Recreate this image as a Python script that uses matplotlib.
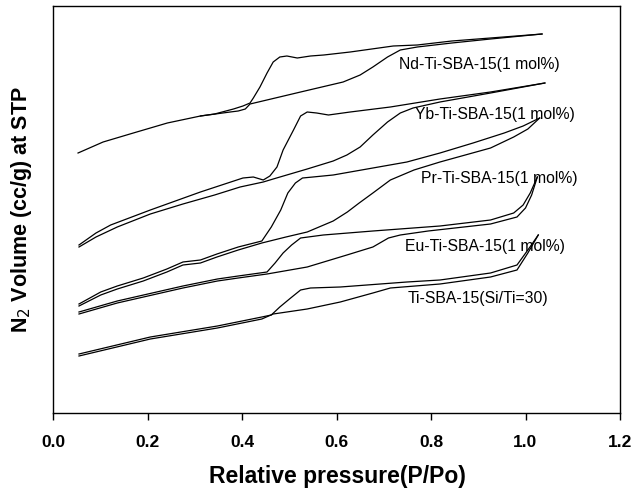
import matplotlib
matplotlib.use("Agg")
import matplotlib.pyplot as plt

plt.rcParams['font.family'] = ['Liberation Sans', 'DejaVu Sans']

# ---- data (relative pressure P/Po, arbitrary stacked volume units) ----
nd_ads_x = [0.053, 0.106, 0.170, 0.242, 0.312, 0.375, 0.392, 0.407, 0.417, 0.524, 0.614, 0.650, 0.677, 0.708, 0.735, 0.771, 0.844, 0.926, 1.035]
nd_ads_y = [260, 271, 280, 290, 297, 301, 302, 304, 309, 321, 331, 338, 346, 356, 363, 366, 370, 374, 379]
nd_des_x = [1.035, 0.926, 0.844, 0.771, 0.720, 0.629, 0.573, 0.545, 0.517, 0.495, 0.480, 0.466, 0.453, 0.438, 0.424, 0.417, 0.402, 0.382, 0.342, 0.312]
nd_des_y = [379, 375, 372, 368, 367, 361, 358, 357, 355, 357, 356, 351, 340, 326, 315, 310, 307, 304, 299, 297]

yb_ads_x = [0.055, 0.091, 0.136, 0.206, 0.275, 0.342, 0.396, 0.445, 0.466, 0.538, 0.593, 0.622, 0.650, 0.677, 0.708, 0.735, 0.762, 0.819, 0.926, 1.041]
yb_ads_y = [166, 176, 186, 199, 209, 218, 226, 231, 234, 244, 252, 258, 266, 278, 291, 300, 305, 311, 320, 330]
yb_des_x = [1.041, 0.926, 0.819, 0.714, 0.629, 0.583, 0.558, 0.538, 0.524, 0.509, 0.487, 0.474, 0.459, 0.445, 0.424, 0.402, 0.312, 0.206, 0.122, 0.091, 0.055]
yb_des_y = [330, 321, 314, 306, 301, 298, 300, 301, 297, 283, 263, 246, 237, 233, 236, 235, 221, 203, 188, 180, 168]

pr_ads_x = [0.055, 0.101, 0.136, 0.191, 0.241, 0.275, 0.312, 0.347, 0.392, 0.442, 0.493, 0.538, 0.593, 0.623, 0.648, 0.677, 0.714, 0.764, 0.819, 0.926, 0.975, 1.005, 1.030]
pr_ads_y = [107, 118, 124, 132, 141, 148, 150, 156, 163, 170, 176, 181, 192, 201, 210, 220, 233, 243, 251, 265, 276, 284, 295]
pr_des_x = [1.030, 0.995, 0.955, 0.889, 0.819, 0.749, 0.677, 0.593, 0.550, 0.528, 0.513, 0.497, 0.482, 0.462, 0.442, 0.392, 0.347, 0.312, 0.275, 0.241, 0.191, 0.136, 0.101, 0.055]
pr_des_y = [295, 287, 280, 270, 260, 251, 245, 238, 236, 235, 230, 220, 203, 186, 172, 166, 159, 153, 151, 144, 135, 127, 121, 109]

eu_ads_x = [0.055, 0.136, 0.275, 0.348, 0.392, 0.453, 0.538, 0.622, 0.677, 0.710, 0.735, 0.794, 0.926, 0.982, 1.000, 1.013, 1.025]
eu_ads_y = [99, 110, 125, 132, 135, 139, 146, 158, 166, 175, 178, 182, 189, 196, 205, 218, 236]
eu_des_x = [1.025, 1.010, 0.995, 0.975, 0.926, 0.819, 0.677, 0.572, 0.524, 0.505, 0.487, 0.470, 0.453, 0.392, 0.348, 0.275, 0.136, 0.055]
eu_des_y = [236, 220, 208, 200, 193, 187, 182, 178, 175, 168, 160, 150, 141, 137, 134, 127, 112, 101]

ti_ads_x = [0.055, 0.206, 0.348, 0.442, 0.466, 0.538, 0.608, 0.677, 0.714, 0.819, 0.926, 0.982, 1.005, 1.027]
ti_ads_y = [57, 74, 85, 94, 99, 104, 111, 120, 125, 129, 136, 143, 160, 178]
ti_des_x = [1.027, 1.005, 0.982, 0.926, 0.819, 0.749, 0.608, 0.545, 0.524, 0.503, 0.480, 0.462, 0.442, 0.348, 0.206, 0.055]
ti_des_y = [178, 163, 148, 140, 133, 131, 126, 125, 123, 115, 106, 98, 96, 87, 76, 59]

labels = ['Nd-Ti-SBA-15(1 mol%)', 'Yb-Ti-SBA-15(1 mol%)', 'Pr-Ti-SBA-15(1 mol%)',
          'Eu-Ti-SBA-15(1 mol%)', 'Ti-SBA-15(Si/Ti=30)']
label_x_end = [1.073, 1.105, 1.109, 1.084, 1.048]
label_y = [348, 298, 234, 167, 115]

xticks = [0.0, 0.2, 0.4, 0.6, 0.8, 1.0, 1.2]

curves = [
    (nd_ads_x, nd_ads_y, nd_des_x, nd_des_y),
    (yb_ads_x, yb_ads_y, yb_des_x, yb_des_y),
    (pr_ads_x, pr_ads_y, pr_des_x, pr_des_y),
    (eu_ads_x, eu_ads_y, eu_des_x, eu_des_y),
    (ti_ads_x, ti_ads_y, ti_des_x, ti_des_y),
]

W, H = 644, 493
fig = plt.figure(figsize=(W / 100, H / 100), dpi=100)
ax_l, ax_r, ax_t, ax_b = 53, 620, 6, 413
ax = fig.add_axes([ax_l / W, 1 - ax_b / H, (ax_r - ax_l) / W, (ax_b - ax_t) / H])

for a_x, a_y, d_x, d_y in curves:
    ax.plot(a_x, a_y, color='black', lw=0.9)
    ax.plot(d_x, d_y, color='black', lw=0.9)

for t, x, y in zip(labels, label_x_end, label_y):
    ax.text(x, y, t, fontsize=11.3, ha='right', va='center', color='black')

ax.set_xlim(0, 1.2)
ax.set_ylim(0, 407)
ax.set_xticks(xticks)
ax.set_xticklabels([f"{v:.1f}" for v in xticks], fontsize=12.5, fontweight='bold')
ax.set_yticks([])
ax.tick_params(axis='x', direction='out', length=5, width=1, pad=10.5)
for s in ax.spines.values():
    s.set_linewidth(1.0)

fig.text((ax_l + ax_r) / 2 / W + 0.5 / W, 1 - 477 / H, 'Relative pressure(P/Po)', fontsize=16.5,
         fontweight='bold', ha='center', va='center')
fig.text(22 / W, 1 - 210 / H, r'N$_2$ Volume (cc/g) at STP', fontsize=15.5,
         fontweight='bold', ha='center', va='center', rotation=90)

fig.savefig('out.png', dpi=100)
